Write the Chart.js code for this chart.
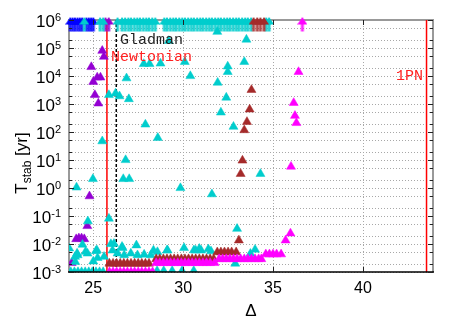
<!DOCTYPE html>
<html>
<head>
<meta charset="utf-8">
<script src="https://cdn.jsdelivr.net/npm/chart.js@4/dist/chart.umd.min.js"></script>
<style>
html, body { margin: 0; padding: 0; background: #fff; }
</style>
</head>
<body>
<canvas id="myChart" width="463" height="324"></canvas>
<script>
// axis ranges
var xMin = 23.65, xMax = 43.9;
var tMin = 1e-3, tMax = 1e6;
var xTicks = [25, 30, 35, 40];
var yDecades = [1e-3, 1e-2, 1e-1, 1, 10, 100, 1e3, 1e4, 1e5, 1e6];
var yExps = ["-3", "-2", "-1", "0", "1", "2", "3", "4", "5", "6"];

// stability limits
var newtonianD = 25.76;
var gladmanD = 26.28;
var pn1D = 43.54;

// runs still stable at the end (T = 1e6 yr), only the delta is stored
var blueTopD = [23.72, 23.85, 23.98, 24.12, 24.25, 24.38, 24.62, 24.75, 24.88, 25.0];
var purpleTopD = [25.68, 25.86];
var cyanTopD = [24.5, 25.38, 25.55, 26.35, 26.6, 26.77, 26.95, 27.1, 27.28, 27.45, 27.6, 27.78,
  27.95, 28.1, 28.28, 28.45, 28.95, 29.1, 29.28, 29.45, 29.6, 29.78, 29.95, 30.1, 30.28, 30.45,
  30.6, 30.78, 30.95, 31.1, 31.28, 31.45, 31.6, 31.78, 31.95, 32.1, 32.28, 32.45, 32.6, 32.78,
  32.95, 33.1, 33.28, 33.45, 33.6, 33.78, 34.62, 34.78];
var brownTopD = [33.92, 34.12, 34.3, 34.5];
var magentaTopD = [36.63];

// [delta, T_stab]
var purplePts = [[25.5, 8e4], [25.59, 4.9e4], [24.89, 2.1e4], [25.22, 8.9e3], [25.4, 8.9e3],
  [25.0, 6.2e3], [25.09, 2.1e3], [25.28, 1.05e3], [24.79, 0.51], [24.67, 0.044],
  [24.05, 0.015], [24.2, 0.016], [24.35, 0.016], [24.5, 0.015], [23.8, 2.1e-3]];

var cyanPts = [[25.87, 2.1e3], [26.24, 2.4e3], [26.46, 1.9e3], [26.98, 1.5e3], [26.85, 8.3e3],
  [27.81, 2.7e4], [28.13, 2.7e4], [28.74, 2.8e4], [30.09, 3.2e4], [30.4, 1e4], [29.2, 1.8e5],
  [31.9, 3.8e5], [33.52, 2e5], [33.4, 3.2e4], [32.48, 2.2e4], [32.48, 1.4e4],
  [27.9, 186], [28.59, 62], [25.5, 47], [26.8, 10], [24.98, 2.1], [26.67, 2.1], [27.0, 2.1],
  [24.07, 1.05], [29.85, 1.0], [31.92, 5.8e3], [32.4, 1.7e3], [32.1, 500], [32.8, 155],
  [34.3, 3.2], [31.6, 0.6], [33.0, 0.035], [25.87, 0.081], [24.7, 0.065],
  [34.0, 6.3e-3], [32.9, 2e-3], [33.74, 4.5e-3], [23.66, 7e-3], [24.4, 9.5e-3], [24.13, 4e-3],
  [24.68, 4.6e-3], [25.15, 5.6e-3], [25.24, 3.2e-3], [25.6, 3.5e-3], [25.98, 0.01],
  [26.07, 5.9e-3], [26.35, 4.6e-3], [26.63, 7.2e-3], [26.72, 4e-3], [27.09, 4.6e-3],
  [27.46, 4e-3], [27.83, 4.2e-3], [28.2, 4e-3], [28.57, 5.2e-3], [29.13, 6e-3], [30.05, 7.2e-3],
  [30.6, 6e-3], [30.9, 6.8e-3], [26.15, 0.0102], [26.6, 8e-3], [27.4, 9e-3], [25.2, 6e-3],
  [24.57, 5.3e-3], [24.1, 4.6e-3], [23.99, 3.5e-3], [24.0, 2.3e-3], [25.0, 2.4e-3],
  [28.35, 5.9e-3], [29.1, 5.9e-3], [30.7, 5.9e-3], [31.0, 5.9e-3], [31.4, 6.5e-3], [31.55, 5.5e-3],
  [23.75, 1e-3], [23.95, 1e-3], [24.15, 1e-3], [24.35, 1e-3], [24.55, 1e-3], [24.75, 1e-3],
  [24.95, 1e-3], [25.15, 1e-3], [25.35, 1e-3], [25.55, 1e-3],
  [28.55, 1.1e-3], [28.92, 1.1e-3], [29.39, 1.1e-3], [29.94, 1.1e-3], [30.59, 1.1e-3]];

var brownPts = [[33.8, 3.2e3], [33.7, 640], [33.55, 230], [33.4, 117], [33.3, 9.6], [33.2, 3.2],
  [33.1, 0.0135],
  [25.9, 2e-3], [26.1, 2e-3], [26.3, 2e-3], [26.5, 2e-3], [26.7, 2e-3], [26.9, 2e-3],
  [27.1, 2e-3], [27.3, 2e-3], [27.5, 2e-3], [27.7, 2e-3], [27.9, 2e-3], [28.1, 2e-3],
  [28.5, 2.9e-3], [28.7, 2.9e-3], [28.9, 2.9e-3], [29.1, 2.9e-3], [29.3, 2.9e-3], [29.5, 2.9e-3],
  [29.7, 2.9e-3], [29.9, 2.9e-3], [30.1, 2.9e-3], [30.3, 2.9e-3], [30.5, 2.9e-3], [30.7, 2.9e-3],
  [30.9, 2.9e-3], [31.1, 2.9e-3], [31.3, 2.9e-3], [31.5, 2.9e-3], [31.7, 2.9e-3],
  [31.9, 5.1e-3], [32.1, 5.1e-3], [32.3, 5.1e-3], [32.5, 5.1e-3], [32.7, 5.1e-3], [32.95, 5.1e-3]];

var magentaPts = [[36.42, 1.4e4], [36.15, 1.1e3], [36.22, 380], [36.3, 210], [36.0, 5.8],
  [35.97, 0.024], [35.7, 0.0135],
  [25.9, 1e-3], [26.1, 1e-3], [26.3, 1e-3], [26.5, 1e-3], [26.7, 1e-3], [26.9, 1e-3],
  [27.1, 1e-3], [27.3, 1e-3], [27.5, 1e-3], [27.7, 1e-3], [27.9, 1e-3], [28.1, 1e-3], [28.3, 1e-3],
  [28.5, 2.1e-3], [28.7, 2.1e-3], [28.9, 2.1e-3], [29.1, 2.1e-3], [29.3, 2.1e-3], [29.5, 2.1e-3],
  [29.7, 2.1e-3], [29.9, 2.1e-3], [30.1, 2.1e-3], [30.3, 2.1e-3], [30.5, 2.1e-3], [30.7, 2.1e-3],
  [30.9, 2.1e-3], [31.1, 2.1e-3], [31.3, 2.1e-3], [31.5, 2.1e-3], [31.75, 2.1e-3],
  [32.0, 2.9e-3], [32.2, 2.9e-3], [32.4, 2.9e-3], [32.6, 2.9e-3], [32.8, 2.9e-3], [33.0, 2.9e-3],
  [33.2, 2.9e-3], [33.4, 2.9e-3], [33.6, 2.9e-3], [33.8, 2.9e-3], [34.0, 2.9e-3], [34.2, 2.9e-3],
  [34.35, 2.9e-3],
  [34.6, 4.3e-3], [34.8, 4.3e-3], [35.0, 4.3e-3], [35.2, 4.3e-3], [35.45, 4.3e-3]];

var colBlue = "#0000ff", colPurple = "#9400d3", colCyan = "#00cdcd",
  colBrown = "#a52a2a", colMagenta = "#ff00ff";

function toXY(list) { return list.map(function (p) { return { x: p[0], y: p[1] }; }); }
function topXY(list) { return list.map(function (d) { return { x: d, y: tMax }; }); }

// arrow marker for runs that survived: triangle with a stem below
function arrow(color) {
  var c = document.createElement("canvas");
  c.width = 10; c.height = 30;
  var g = c.getContext("2d");
  g.fillStyle = color;
  g.beginPath(); g.moveTo(5, 12); g.lineTo(10, 19.5); g.lineTo(0, 19.5); g.closePath(); g.fill();
  g.globalAlpha = 0.85;
  g.fillRect(3.5, 18, 3, 8.5);
  return c;
}

function pts(label, data, color, order) {
  return { label: label, data: data, backgroundColor: color, borderColor: color, borderWidth: 0.5,
    pointStyle: "triangle", pointRadius: 5.2, order: order, clip: 0 };
}
function tops(label, data, color, order) {
  return { label: label, data: data, pointStyle: arrow(color), pointRadius: 5,
    order: order, clip: false };
}
function vline(d, color, dash) {
  return { type: "line", data: [{ x: d, y: tMin }, { x: d, y: tMax }], borderColor: color,
    borderWidth: 1.5, borderDash: dash, pointRadius: 0, order: 20 };
}

var sansFont = '"Liberation Sans", Arial, sans-serif';

var frame = {
  id: "frame",
  beforeDatasetsDraw: function (chart) {
    var ctx = chart.ctx, a = chart.chartArea, x = chart.scales.x, y = chart.scales.y;
    ctx.save();
    ctx.strokeStyle = "#a8a8a8";
    ctx.lineWidth = 1;
    ctx.setLineDash([1, 2]);
    yDecades.forEach(function (v) {
      [1, 2, 5].forEach(function (m) {
        var t = v * m;
        if (t > tMax) return;
        var py = Math.round(y.getPixelForValue(t)) + 0.5;
        ctx.beginPath(); ctx.moveTo(a.left, py); ctx.lineTo(a.right, py); ctx.stroke();
      });
    });
    xTicks.forEach(function (v) {
      var px = Math.round(x.getPixelForValue(v)) + 0.5;
      ctx.beginPath(); ctx.moveTo(px, a.top); ctx.lineTo(px, a.bottom); ctx.stroke();
    });
    // gray frame sits under the marks
    ctx.setLineDash([]);
    ctx.strokeStyle = "#999";
    ctx.lineWidth = 2;
    ctx.beginPath();
    ctx.moveTo(a.left, a.bottom); ctx.lineTo(a.left, a.top); ctx.lineTo(a.right, a.top);
    ctx.lineTo(a.right, a.bottom);
    ctx.stroke();
    ctx.restore();
  },
  afterDraw: function (chart) {
    var ctx = chart.ctx, a = chart.chartArea, x = chart.scales.x, y = chart.scales.y;
    ctx.save();
    ctx.strokeStyle = "#000";
    ctx.lineWidth = 1.5;
    ctx.beginPath(); ctx.moveTo(a.left - 1, a.bottom); ctx.lineTo(a.right + 1, a.bottom); ctx.stroke();
    // tick marks
    ctx.strokeStyle = "#222";
    ctx.lineWidth = 1;
    xTicks.forEach(function (v) {
      var px = Math.round(x.getPixelForValue(v)) + 0.5;
      ctx.beginPath();
      ctx.moveTo(px, a.bottom); ctx.lineTo(px, a.bottom - 5);
      ctx.moveTo(px, a.top); ctx.lineTo(px, a.top + 5);
      ctx.stroke();
    });
    yDecades.forEach(function (v) {
      [1, 2, 5].forEach(function (m) {
        var t = v * m;
        if (t > tMax) return;
        var len = m === 1 ? 5 : 3;
        var py = Math.round(y.getPixelForValue(t)) + 0.5;
        ctx.beginPath();
        ctx.moveTo(a.left, py); ctx.lineTo(a.left + len, py);
        ctx.moveTo(a.right, py); ctx.lineTo(a.right - len, py);
        ctx.stroke();
      });
    });
    // tick labels
    ctx.fillStyle = "#000";
    ctx.font = "16px " + sansFont;
    ctx.textAlign = "center";
    ctx.textBaseline = "middle";
    xTicks.forEach(function (v) {
      ctx.fillText(String(v), x.getPixelForValue(v), 289);
    });
    yDecades.forEach(function (v, i) {
      var py = y.getPixelForValue(v);
      ctx.font = "11px " + sansFont;
      ctx.textAlign = "left";
      ctx.textBaseline = "alphabetic";
      var ew = ctx.measureText(yExps[i]).width;
      var ex = 61 - ew;
      ctx.fillText(yExps[i], ex, py + 0.5);
      ctx.font = "17px " + sansFont;
      ctx.textAlign = "right";
      ctx.fillText("10", ex, py + 6.5);
    });
    // axis titles
    ctx.textAlign = "center";
    ctx.textBaseline = "middle";
    ctx.font = "17px " + sansFont;
    ctx.fillText("\u0394", (a.left + a.right) / 2, 311);
    ctx.translate(21, 163);
    ctx.rotate(-Math.PI / 2);
    ctx.textAlign = "left";
    ctx.textBaseline = "alphabetic";
    var w1, w2, w3;
    ctx.font = "17px " + sansFont;
    w1 = ctx.measureText("T").width;
    w3 = ctx.measureText(" [yr]").width;
    ctx.font = "12px " + sansFont;
    w2 = ctx.measureText("stab").width;
    var sx = -(w1 + w2 + w3) / 2;
    ctx.font = "17px " + sansFont;
    ctx.fillText("T", sx, 6);
    ctx.font = "12px " + sansFont;
    ctx.fillText("stab", sx + w1, 9.5);
    ctx.font = "17px " + sansFont;
    ctx.fillText(" [yr]", sx + w1 + w2, 6);
    ctx.restore();
    // limit labels
    ctx.save();
    ctx.font = '15px "Liberation Mono", "Courier New", monospace';
    ctx.textBaseline = "middle";
    ctx.textAlign = "left";
    ctx.fillStyle = "#222";
    ctx.fillText("Gladman", 120, 40);
    ctx.fillStyle = "#ff2020";
    ctx.fillText("Newtonian", 111, 57);
    ctx.fillText("1PN", 396, 76);
    ctx.restore();
  }
};

new Chart("myChart", {
  type: "scatter",
  data: {
    datasets: [
      tops("mag top", topXY(magentaTopD), colMagenta, 1),
      tops("brown top", topXY(brownTopD), colBrown, 2),
      tops("cyan top", topXY(cyanTopD), colCyan, 3),
      tops("purple top", topXY(purpleTopD), colPurple, 4),
      tops("blue top", topXY(blueTopD), colBlue, 5),
      pts("magenta", toXY(magentaPts), colMagenta, 6),
      pts("brown", toXY(brownPts), colBrown, 7),
      pts("cyan", toXY(cyanPts), colCyan, 8),
      pts("purple", toXY(purplePts), colPurple, 9),
      vline(newtonianD, "#ff0000", []),
      vline(gladmanD, "#000000", [3, 2]),
      vline(pn1D, "#ff0000", [])
    ]
  },
  options: {
    responsive: false,
    animation: false,
    events: [],
    layout: { padding: { left: 69, right: 30, top: 20, bottom: 52 }, autoPadding: false },
    plugins: { legend: { display: false }, tooltip: { enabled: false } },
    scales: {
      x: { type: "linear", min: xMin, max: xMax, display: false },
      y: { type: "logarithmic", min: tMin, max: tMax, display: false }
    }
  },
  plugins: [frame]
});
</script>
</body>
</html>
